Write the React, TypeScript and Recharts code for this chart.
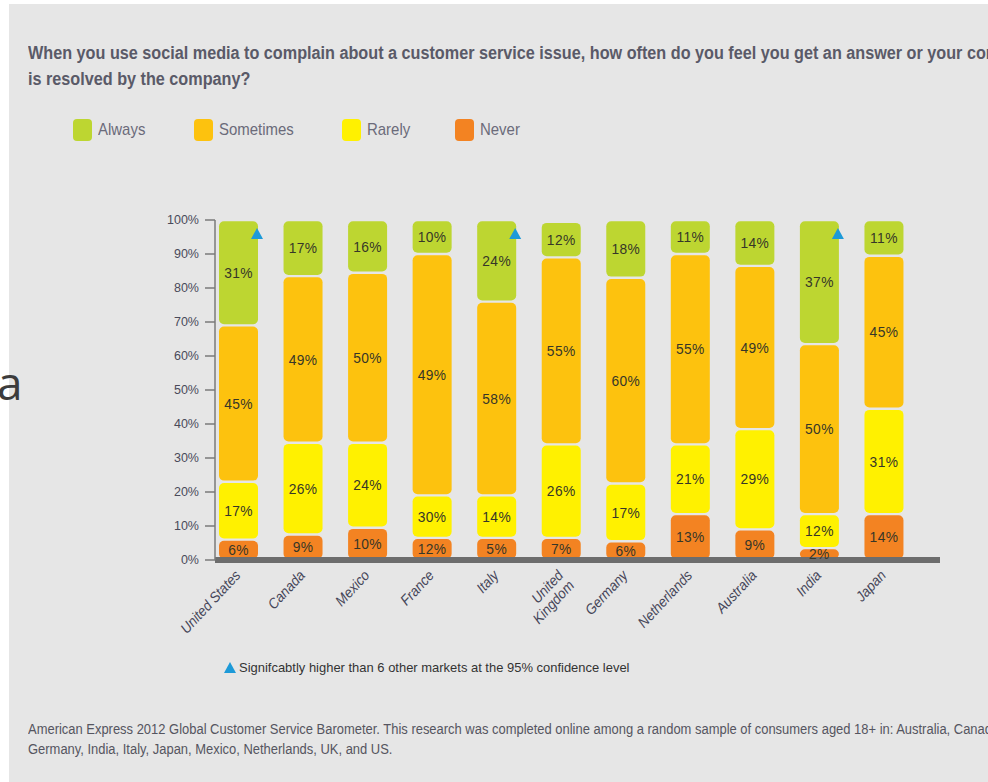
import React from "react";
import { BarChart, Bar, XAxis, YAxis, LabelList, ReferenceLine } from "recharts";

const countries = ["United States", "Canada", "Mexico", "France", "Italy", "United Kingdom", "Germany", "Netherlands", "Australia", "India", "Japan"];
// bar heights as drawn (percent of bar)
const never = [6, 7.5, 9.5, 6.5, 6.5, 6.5, 5.5, 13.5, 9, 3.5, 13.5];
const rarely = [17, 27, 25, 12.5, 12.5, 27.5, 17, 20.5, 29.5, 10, 31];
const sometimes = [46, 49, 50, 71, 57, 55, 60.5, 56, 48, 50, 45];
const always = [31, 16.5, 15.5, 10, 24, 10.5, 17, 10, 13.5, 36.5, 10.5];
// printed labels
const neverLbl = [6, 9, 10, 12, 5, 7, 6, 13, 9, 2, 14];
const rarelyLbl = [17, 26, 24, 30, 14, 26, 17, 21, 29, 12, 31];
const sometimesLbl = [45, 49, 50, 49, 58, 55, 60, 55, 49, 50, 45];
const alwaysLbl = [31, 17, 16, 10, 24, 12, 18, 11, 14, 37, 11];
// significance markers
const significant = [1, 0, 0, 0, 1, 0, 0, 0, 0, 1, 0];
const yTicks = [0, 10, 20, 30, 40, 50, 60, 70, 80, 90, 100];

const data = countries.map((c, i) => ({
  country: c,
  never: never[i],
  rarely: rarely[i],
  sometimes: sometimes[i],
  always: always[i],
  neverLbl: neverLbl[i],
  rarelyLbl: rarelyLbl[i],
  sometimesLbl: sometimesLbl[i],
  alwaysLbl: alwaysLbl[i],
  sig: significant[i],
}));

const C_ALWAYS = "#bdd631";
const C_SOMETIMES = "#fdc20e";
const C_RARELY = "#fff100";
const C_NEVER = "#f38322";
const BG = "#e6e6e6";
const SANS = "'Liberation Sans', Arial, sans-serif";

const Seg = (props: any) => {
  const { x, y, width, height, fill } = props;
  if (!height || height <= 0) return null;
  const h = Math.max(height - 2.4, 1);
  return <rect x={x} y={y + 1.2} width={width} height={h} rx={5} ry={5} fill={fill} />;
};

const segLabel = (p: any) => {
  const { x, y, width, height, value } = p;
  const cx = x + width / 2;
  const cy = y + height / 2;
  return (
    <text
      transform={`translate(${cx}, ${cy}) scale(0.92, 1)`}
      x={0}
      y={0}
      textAnchor="middle"
      dominantBaseline="central"
      fontFamily={SANS}
      fontSize={15}
      letterSpacing={0.4}
      fill="#363628"
    >
      {value}%
    </text>
  );
};

const sigMark = (p: any) => {
  const { x, y, width, value } = p;
  if (!value) return null;
  const r = x + width;
  return <polygon points={`${r - 1},${y + 8} ${r + 5},${y + 19} ${r - 7},${y + 19}`} fill="#1d9ad8" />;
};

const XTick = (props: any) => {
  const { x, y, payload } = props;
  const label: string = payload.value;
  const lines = label === "United Kingdom" ? ["United", "Kingdom"] : [label];
  const tx = x + 3;
  const ty = y + 8;
  return (
    <g transform={`translate(${tx}, ${ty}) rotate(-47) scale(0.92, 1)`}>
      <text x={0} y={0} textAnchor="end" fontFamily={SANS} fontStyle="italic" fontSize={14.5} fill="#454558">
        {lines.map((l, i) => (
          <tspan key={i} x={0} dy={i === 0 ? 0 : 15}>
            {l}
          </tspan>
        ))}
      </text>
    </g>
  );
};

const legendItems = [
  { name: "Always", color: C_ALWAYS, left: 73 },
  { name: "Sometimes", color: C_SOMETIMES, left: 194 },
  { name: "Rarely", color: C_RARELY, left: 342 },
  { name: "Never", color: C_NEVER, left: 455 },
];

const squeeze = (sx: number): React.CSSProperties => ({ transform: `scaleX(${sx})`, transformOrigin: "left top" });

export default function App() {
  return (
    <div style={{ position: "relative", width: 988, height: 782, overflow: "hidden", background: "#ffffff" }}>
      <style>{`body{margin:0;}`}</style>
      <div style={{ position: "absolute", left: 9, top: 4, width: 979, height: 778, background: BG }} />
      <div
        style={{
          position: "absolute",
          left: 28,
          top: 40,
          width: 1200,
          fontFamily: SANS,
          fontWeight: "bold",
          fontSize: 18,
          lineHeight: "26px",
          color: "#5a5a68",
          whiteSpace: "nowrap",
          ...squeeze(0.9),
        }}
      >
        <div>When you use social media to complain about a customer service issue, how often do you feel you get an answer or your complaint</div>
        <div>is resolved by the company?</div>
      </div>
      {legendItems.map((it) => (
        <div key={it.name} style={{ position: "absolute", left: it.left, top: 118, height: 23, display: "flex", alignItems: "center" }}>
          <div style={{ width: 19, height: 22, borderRadius: 4, background: it.color }} />
          <span style={{ marginLeft: 6, fontFamily: SANS, fontSize: 17, color: "#6b6b7a", display: "inline-block", ...squeeze(0.88) }}>
            {it.name}
          </span>
        </div>
      ))}
      <div style={{ position: "absolute", left: -3, top: 352, fontFamily: "'Open Sans', sans-serif", fontSize: 46, color: "#3c3c3c", lineHeight: "60px" }}>a</div>
      <div style={{ position: "absolute", left: 0, top: 0 }}>
        <BarChart width={988} height={782} data={data} margin={{ top: 220, right: 48, bottom: 192, left: 155 }}>
          <YAxis
            type="number"
            domain={[0, 100]}
            ticks={yTicks}
            width={60}
            tickSize={10}
            tickMargin={6}
            tickFormatter={(v: number) => `${v}%`}
            axisLine={{ stroke: "#7a7a7a", strokeWidth: 1.5 }}
            tickLine={{ stroke: "#7a7a7a", strokeWidth: 1.5 }}
            tick={{ fontFamily: SANS, fontSize: 12.5, fill: "#4a4a5a" }}
            interval={0}
          />
          <XAxis
            dataKey="country"
            type="category"
            height={30}
            axisLine={false}
            tickLine={false}
            interval={0}
            padding={{ left: -9, right: 24 }}
            tick={<XTick />}
          />
          <Bar dataKey="never" stackId="s" fill={C_NEVER} barSize={39} shape={<Seg />} isAnimationActive={false}>
            <LabelList dataKey="neverLbl" content={segLabel} />
          </Bar>
          <Bar dataKey="rarely" stackId="s" fill={C_RARELY} barSize={39} shape={<Seg />} isAnimationActive={false}>
            <LabelList dataKey="rarelyLbl" content={segLabel} />
          </Bar>
          <Bar dataKey="sometimes" stackId="s" fill={C_SOMETIMES} barSize={39} shape={<Seg />} isAnimationActive={false}>
            <LabelList dataKey="sometimesLbl" content={segLabel} />
          </Bar>
          <Bar dataKey="always" stackId="s" fill={C_ALWAYS} barSize={39} shape={<Seg />} isAnimationActive={false}>
            <LabelList dataKey="alwaysLbl" content={segLabel} />
            <LabelList dataKey="sig" content={sigMark} />
          </Bar>
          <ReferenceLine y={0} stroke="#6d6d6d" strokeWidth={6} />
        </BarChart>
      </div>
      <div style={{ position: "absolute", left: 224, top: 660, display: "flex", alignItems: "center" }}>
        <svg width={12} height={11}>
          <polygon points="6,0 12,11 0,11" fill="#1d9ad8" />
        </svg>
        <span style={{ marginLeft: 3, fontFamily: SANS, fontSize: 13.5, color: "#333333", display: "inline-block", whiteSpace: "nowrap", ...squeeze(0.96) }}>
          Signifcabtly higher than 6 other markets at the 95% confidence level
        </span>
      </div>
      <div
        style={{
          position: "absolute",
          left: 28,
          top: 719,
          width: 1200,
          fontFamily: SANS,
          fontSize: 14,
          lineHeight: "20px",
          color: "#555560",
          whiteSpace: "nowrap",
          ...squeeze(0.925),
        }}
      >
        <div>American Express 2012 Global Customer Service Barometer. This research was completed online among a random sample of consumers aged 18+ in: Australia, Canada,</div>
        <div>Germany, India, Italy, Japan, Mexico, Netherlands, UK, and US.</div>
      </div>
    </div>
  );
}
